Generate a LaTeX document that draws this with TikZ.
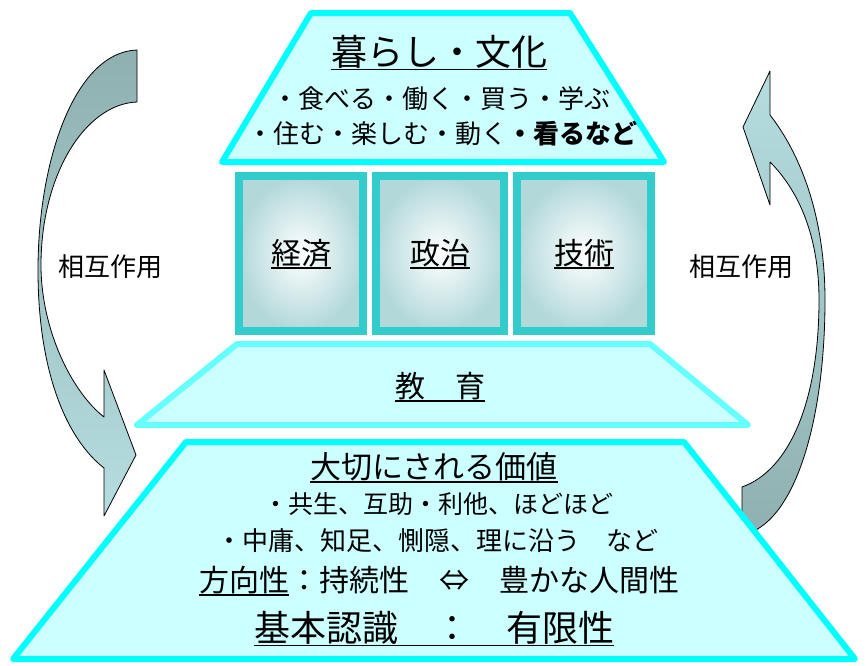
\documentclass[tikz,border=0pt]{standalone}
\usepackage{fontspec}
\setmainfont{Noto Sans CJK JP}
\definecolor{cyanedge}{HTML}{00FFFF}
\definecolor{lightedge}{HTML}{66FFFF}
\definecolor{paleFill}{HTML}{CCFFFF}
\definecolor{boxedge}{HTML}{33CCCC}
\definecolor{boxfill}{HTML}{B2D8DA}
\definecolor{arrowdark}{HTML}{8FB0B0}
\definecolor{arrowlight}{HTML}{B5DDE0}
\newsavebox\ulbox
\newcommand\myul[1]{\sbox\ulbox{#1}\rlap{\rule[-0.15em]{\wd\ulbox}{1.5pt}}\usebox\ulbox}
\newcommand\fs[1]{\fontsize{#1}{#1}\selectfont}
\tikzset{
  txt/.style={inner sep=0pt, anchor=base, text=black},
  trap/.style={fill=paleFill, line width=6pt, line join=round},
  pillar/.style={inner color=white, outer color=boxfill, draw=boxedge, line width=8pt},
  curvearrow/.style={draw=black, line width=0.8pt, line join=round}
}
\begin{document}
\begin{tikzpicture}[x=1pt,y=-1pt]
\useasboundingbox (0,0) rectangle (866,665);
% left curved arrow
\shadedraw[curvearrow, top color=arrowdark, bottom color=arrowlight]
 (137,50) .. controls (75,52) and (38,160) .. (38,270)
 .. controls (38,375) and (68,440) .. (104,468)
 -- (104,516) -- (136,455) -- (104,370) -- (104,417)
 .. controls (72,392) and (41,330) .. (41,265)
 .. controls (41,175) and (85,104) .. (137,102) -- cycle;
% right curved arrow
\shadedraw[curvearrow, top color=arrowlight, bottom color=arrowdark]
 (770,71) -- (743,127) -- (770,205) -- (770,162)
 .. controls (798,190) and (819,235) .. (819,300)
 .. controls (819,400) and (790,470) .. (742,487)
 -- (742,535)
 .. controls (795,525) and (825,420) .. (825,300)
 .. controls (825,225) and (805,160) .. (770,115) -- cycle;
% top trapezoid
\filldraw[trap, draw=cyanedge] (311,13) -- (570,13) -- (664,162) -- (222,162) -- cycle;
% pillars
\shadedraw[pillar] (239,176) rectangle (363,331);
\shadedraw[pillar] (376,176) rectangle (504,331);
\shadedraw[pillar] (517,176) rectangle (651,331);
% education
\filldraw[trap, draw=lightedge] (237,344) -- (650,344) -- (748,425) -- (137,425) -- cycle;
% base
\filldraw[trap, draw=cyanedge] (186,442) -- (684,442) -- (855,659) -- (13,659) -- cycle;
% texts
\node[txt, font=\fs{36}] (title) at (439,65) {\myul{暮らし・文化}};
\node[txt, font=\fs{26}] (l1) at (441,108) {・食べる・働く・買う・学ぶ};
\node[txt, font=\fs{26}] (l2) at (442,143) {・住む・楽しむ・動く{\bfseries ・看るなど}};
\node[txt, font=\fs{30}] (keizai) at (301,264) {\myul{経済}};
\node[txt, font=\fs{30}] (seiji) at (440,264) {\myul{政治}};
\node[txt, font=\fs{30}] (gijutsu) at (584,264) {\myul{技術}};
\node[txt, font=\fs{30}] (kyouiku) at (440,397) {\myul{教　育}};
\node[txt, font=\fs{31}] (value) at (434,478) {\myul{大切にされる価値}};
\node[txt, font=\fs{25}] (v1) at (438,513) {・共生、互助・利他、ほどほど};
\node[txt, font=\fs{26}] (v2) at (437,550) {・中庸、知足、惻隠、理に沿う　など};
\node[txt, font=\fs{30}] (dir) at (439,591) {\myul{方向性}：持続性　⇔　豊かな人間性};
\node[txt, font=\fs{36}] (basic) at (434,641) {\myul{基本認識　：　有限性}};
\node[txt, font=\fs{26}] (soL) at (110,276) {相互作用};
\node[txt, font=\fs{26}] (soR) at (741,276) {相互作用};
\end{tikzpicture}
\end{document}
